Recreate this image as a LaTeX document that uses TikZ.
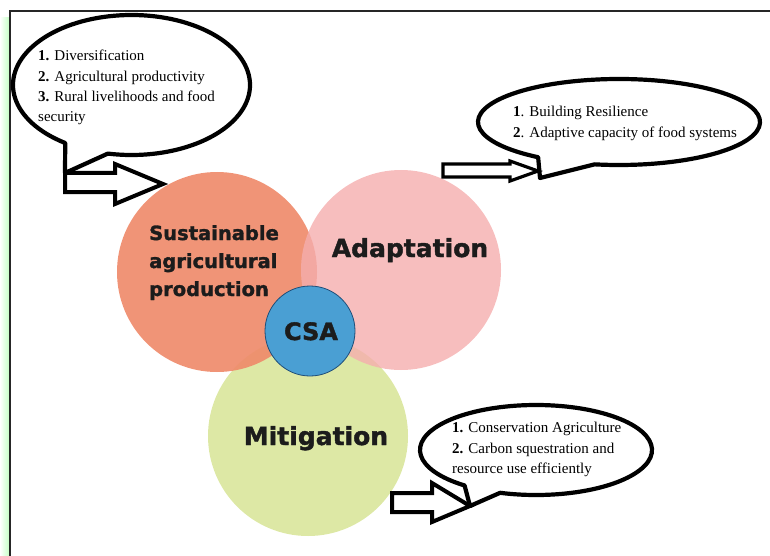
\documentclass[tikz,border=0pt]{standalone}
\usepackage{fontspec}
\setmainfont{Liberation Serif}
\newfontfamily\circfont{DejaVu Sans}[BoldFeatures={FakeBold=1.6}]
\definecolor{orangeC}{HTML}{EF8B6B}
\definecolor{pinkC}{HTML}{F5AEAE}
\definecolor{greenC}{HTML}{DDE8A5}
\definecolor{blueC}{HTML}{4A9FD3}
\definecolor{blueEdge}{HTML}{1F4E79}
\definecolor{txtC}{HTML}{1C1C1C}
\tikzset{
  bigcirc/.style={circle, inner sep=0pt, minimum size=200pt},
  circtext/.style={font=\circfont\bfseries\fontsize{#1}{#1}\selectfont, text=txtC, inner sep=0pt},
  bubbletext/.style={font=\fontsize{15}{18}\selectfont, anchor=base west, inner sep=0pt},
  bubble/.style={draw=black, line width=4.2pt, fill=white, line join=round},
  blockarrow/.style={draw=black, line width=4pt, fill=white, line join=miter},
}
\begin{document}
\begin{tikzpicture}[x=1pt,y=-1pt]
\useasboundingbox (0,0) rectangle (770,556);
% frame
\shade[left color=white, right color=green!22!white] (0,18) rectangle (9,556);
\draw[line width=1.8pt, black!85] (10,556) -- (10,11) -- (770,11);

% circles
\node[bigcirc, fill=greenC] (mit) at (308,436) {};
\node[bigcirc, fill=orangeC, fill opacity=0.92] (sap) at (217,272) {};
\node[bigcirc, fill=pinkC, fill opacity=0.8] (ada) at (401,270) {};
\node[circle, inner sep=0pt, minimum size=90pt, fill=blueC, draw=blueEdge, line width=0.8pt] (csa) at (310,331) {};

% circle labels
\node[circtext=19.5, anchor=base west] (sap1) at (149,240) {Sustainable};
\node[circtext=19.5, anchor=base west] (sap2) at (149,268) {agricultural};
\node[circtext=19.5, anchor=base west] (sap3) at (149,296) {production};
\node[circtext=25, anchor=base] (adal) at (410,257) {Adaptation};
\node[circtext=24, anchor=base] (csal) at (311,340) {CSA};
\node[circtext=25, anchor=base] (mitl) at (316,445) {Mitigation};

% bubble 1
\coordinate (t1) at (65,173);
\draw[bubble] (131.5,85) ++(124:118.5 and 70) arc[start angle=124, end angle=461.5, x radius=118.5, y radius=70] -- (t1) -- cycle;
\draw[blockarrow] (t1) -- (115,173) -- (115,164) -- (163,184) -- (115,204) -- (115,192) -- (65,192) -- cycle;
\node[bubbletext] (b1a) at (38,61) {\textbf{1.} Diversification};
\node[bubbletext] (b1b) at (38,81.5) {\textbf{2.} Agricultural productivity};
\node[bubbletext] (b1c) at (38,102) {\textbf{3.} Rural livelihoods and food};
\node[bubbletext] (b1d) at (38,122) {security};

% bubble 2
\coordinate (t2) at (540,178);
\draw[bubble] (619,122) ++(125:141 and 43) arc[start angle=125, end angle=460, x radius=141, y radius=43] -- (t2) -- cycle;
\draw[blockarrow, line width=3.2pt] (443,164) -- (510,164) -- (510,161) -- (538,171) -- (510,181) -- (510,177) -- (443,177) -- cycle;
\node[bubbletext] (b2a) at (513,117) {\textbf{1}. Building Resilience};
\node[bubbletext] (b2b) at (513,138) {\textbf{2}. Adaptive capacity of food systems};

% bubble 3
\coordinate (t3) at (470,506);
\draw[bubble] (536,450) ++(128:116 and 45) arc[start angle=128, end angle=468, x radius=116, y radius=45] -- (t3) -- cycle;
\draw[blockarrow] (392,493) -- (432,493) -- (432,483) -- (t3) -- (432,522) -- (432,512) -- (392,512) -- cycle;
\node[bubbletext] (b3a) at (452,432) {\textbf{1.} Conservation Agriculture};
\node[bubbletext] (b3b) at (452,453) {\textbf{2.} Carbon squestration and};
\node[bubbletext] (b3c) at (452,473) {resource use efficiently};
\end{tikzpicture}
\end{document}
